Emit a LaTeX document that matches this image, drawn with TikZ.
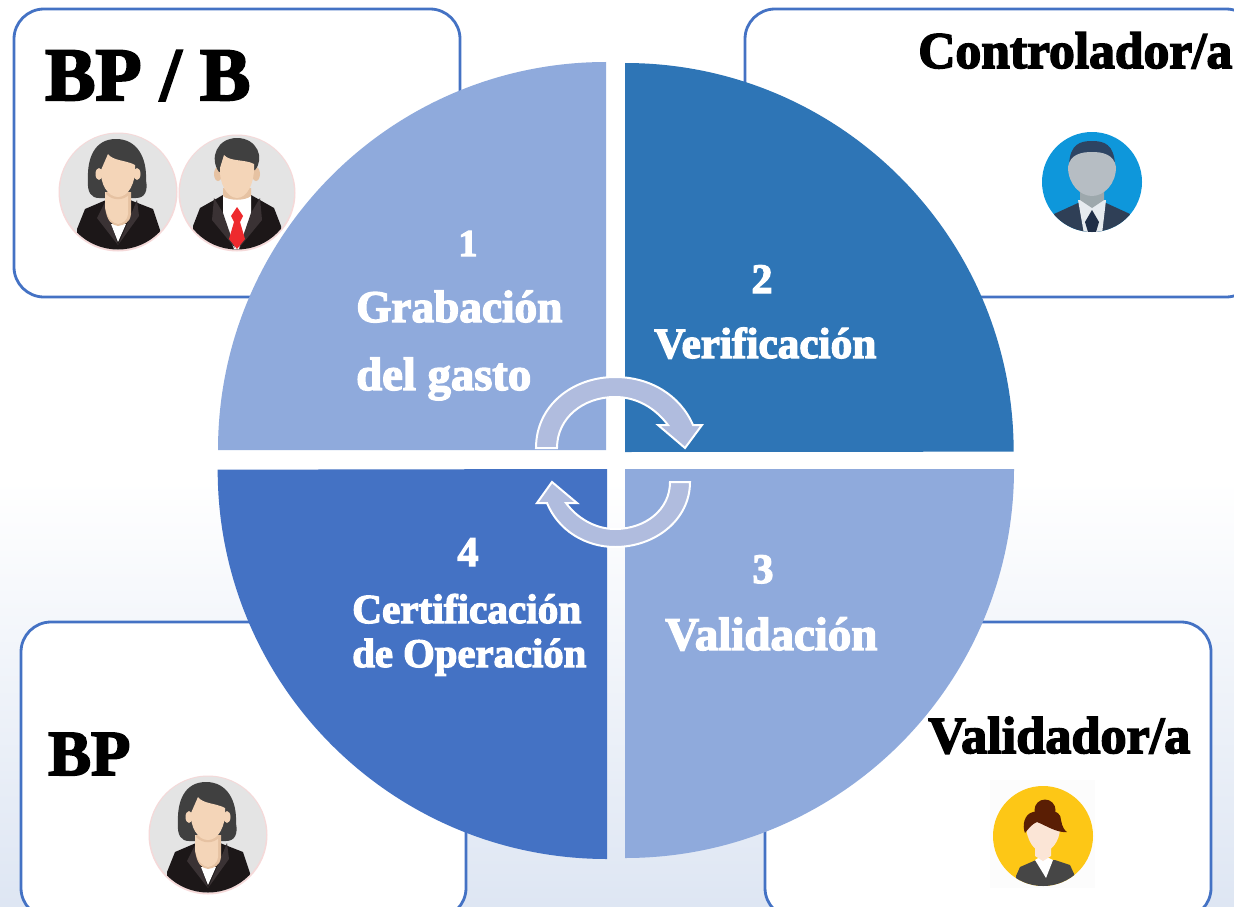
\documentclass[tikz,border=0pt]{standalone}
\usepackage{fontspec}
\setmainfont{Liberation Serif}[BoldFeatures={FakeBold=3}]
\newdimen\unitpx \unitpx=0.75pt
\newcommand{\fittext}[2]{\resizebox{#1\unitpx}{!}{\bfseries #2}}
\definecolor{boxblue}{HTML}{4472C4}
\definecolor{paleq}{HTML}{8FAADC}
\definecolor{darkq}{HTML}{2E75B6}
\definecolor{midq}{HTML}{4472C4}
\definecolor{turn}{HTML}{B0BCDE}
\definecolor{bgblue}{HTML}{DEE6F3}
\definecolor{skin}{HTML}{F4D5B8}
\definecolor{skinshade}{HTML}{E6C2A2}
\definecolor{hairgrey}{HTML}{404040}
\definecolor{suit}{HTML}{1C1718}
\definecolor{lapel}{HTML}{3A3234}
\definecolor{discgrey}{HTML}{E4E4E4}
\definecolor{rim}{HTML}{F5D9D9}
\definecolor{tiered}{HTML}{EE2A2E}
\definecolor{HTMLblue}{HTML}{0E97DB}
\definecolor{HTMLhair}{HTML}{2D4463}
\definecolor{HTMLsuit}{HTML}{2F3F56}
\definecolor{HTMLneck}{HTML}{9DA8AC}
\definecolor{HTMLcollar}{HTML}{E6EBEF}
\definecolor{HTMLtie}{HTML}{1F2E47}
\definecolor{HTMLface}{HTML}{B6BDC3}
\definecolor{HTMLsq}{HTML}{FCFCFC}
\definecolor{HTMLyellow}{HTML}{FDC716}
\definecolor{HTMLsuit2}{HTML}{464646}
\definecolor{HTMLbrown}{HTML}{5A1E04}
\definecolor{HTMLpeach}{HTML}{FBE5D6}
\tikzset{
  x=0.75pt,y=-0.75pt,
  roundbox/.style={draw=boxblue,line width=2.1pt,fill=white,rounded corners=22.5pt},
  label head/.style={inner sep=0pt,anchor=base west,text=black},
  label white/.style={inner sep=0pt,anchor=base west,text=white},
  label num/.style={inner sep=0pt,anchor=base,text=white},
  turn arrow/.style={fill=turn,draw=white,line width=1.5pt,line join=miter},
  womanav/.pic={
    \fill[rim] (0,0) circle[radius=59.5*\unitpx];
    \begin{scope}
      \clip (0,-0.5) circle[radius=58*\unitpx];
      \fill[discgrey] (-60,-60) rectangle (60,60);
      \fill[hairgrey] (-2,-53) .. controls (-24,-53) and (-31,-33) .. (-30,-12)
        .. controls (-31,0) and (-27,6) .. (-19,6) -- (18,6)
        .. controls (27,6) and (30,-1) .. (28,-12)
        .. controls (29,-33) and (20,-53) .. (-2,-53) -- cycle;
      \fill[suit] (-41,37) -- (-33,17) -- (-12,8) -- (12,8) -- (35,17) -- (42,38) -- (42,60) -- (-41,60) -- cycle;
      \fill[lapel] (-12,8) -- (-21,26) -- (0,53) -- (-7,32) -- cycle;
      \fill[lapel] (19,8) -- (21,24) -- (0,53) -- (10,30) -- cycle;
      \fill[white] (-7,32) -- (8,32) -- (0,50) -- cycle;
      \fill[skinshade] (-13,0) -- (13,0) -- (13,22) .. controls (12,31) and (6,33) .. (0,34) .. controls (-6,33) and (-11,30) .. (-13,15) -- cycle;
      \fill[skin] (-13,0) -- (10,0) -- (10,22) .. controls (9,29) and (5,31) .. (0,32) .. controls (-5,31) and (-10,28) .. (-13,15) -- cycle;
      \fill[skinshade] (-12,2) .. controls (-5,9) and (5,9) .. (12,2) -- (12,0) -- (-12,0) -- cycle;
      \fill[skin] (-19,-18) ellipse[x radius=3.5*\unitpx,y radius=6*\unitpx];
      \fill[skin] (19,-18) ellipse[x radius=3.5*\unitpx,y radius=6*\unitpx];
      \fill[skin] (-10,-38) .. controls (-5,-31) and (8,-32) .. (17,-27)
        .. controls (18,-8) and (10,5) .. (0,5)
        .. controls (-10,5) and (-18,-8) .. (-17,-22) -- cycle;
    \end{scope}
  },
  manav/.pic={
    \fill[rim] (0,0) circle[radius=58.5*\unitpx];
    \begin{scope}
      \clip (0,-0.5) circle[radius=57*\unitpx];
      \fill[discgrey] (-60,-60) rectangle (60,60);
      \fill[suit] (-44,33) -- (-37,15) -- (-14,2) -- (14,2) -- (37,15) -- (44,33) -- (44,60) -- (-44,60) -- cycle;
      \fill[white] (-14,3) -- (14,3) -- (14,26) -- (2,56) -- (-3,56) -- (-14,26) -- cycle;
      \fill[lapel] (-23,5) -- (-25,27) -- (-2,55) -- (-14,20) -- cycle;
      \fill[lapel] (23,5) -- (25,27) -- (2,55) -- (14,20) -- cycle;
      \fill[tiered] (0,14) -- (6,23) -- (3,29) -- (8,46) -- (0,56) -- (-8,46) -- (-3,29) -- (-6,23) -- cycle;
      \fill[skinshade] (-14,-5) -- (14,-5) -- (14,3) .. controls (8,8) and (-8,8) .. (-14,3) -- cycle;
      \fill[skinshade] (-19,-19) ellipse[x radius=4*\unitpx,y radius=7*\unitpx];
      \fill[skinshade] (19,-19) ellipse[x radius=4*\unitpx,y radius=7*\unitpx];
      \fill[hairgrey] (-18,-21) .. controls (-28,-35) and (-20,-55) .. (0,-55)
        .. controls (20,-55) and (28,-35) .. (18,-23) -- cycle;
      \fill[skin] (-13,-38) .. controls (-7,-31) and (8,-34) .. (17,-29)
        .. controls (18,-10) and (10,5) .. (0,5)
        .. controls (-10,5) and (-18,-10) .. (-17,-25) -- cycle;
    \end{scope}
  },
  bluemanav/.pic={
    \begin{scope}
      \clip (0,0) circle[radius=50*\unitpx];
      \fill[HTMLblue] (-60,-60) rectangle (60,60);
      \fill[HTMLhair] (-23,-17) .. controls (-22,-38) and (-12,-41) .. (0,-41)
        .. controls (12,-41) and (22,-38) .. (23,-17) -- cycle;
      \fill[HTMLsuit] (-38,32) -- (-14,21) -- (14,21) -- (38,32) -- (38,55) -- (-38,55) -- cycle;
      \fill[HTMLcollar] (-14,18) -- (14,18) -- (10,52) -- (-8,52) -- cycle;
      \fill[HTMLneck] (-12,8) -- (12,8) -- (12,18) -- (0,26) -- (-12,18) -- cycle;
      \fill[HTMLtie] (0,28) -- (7,40) -- (4,50) -- (-4,50) -- (-7,40) -- cycle;
      \fill[HTMLface] (-24,-15) .. controls (-22,-28) and (-10,-30) .. (0,-30)
        .. controls (10,-30) and (22,-28) .. (24,-15)
        .. controls (24,2) and (12,14) .. (0,14)
        .. controls (-12,14) and (-24,2) .. (-24,-15) -- cycle;
    \end{scope}
  },
  yellowav/.pic={
    \fill[HTMLsq] (-53,-56) rectangle (52,52);
    \begin{scope}
      \clip (0,0) circle[radius=50*\unitpx];
      \fill[HTMLyellow] (-60,-60) rectangle (60,60);
      \fill[HTMLsuit2] (-27,40) -- (-23,31) -- (-7,24) -- (12,24) -- (27,29) -- (32,40) -- (32,55) -- (-27,55) -- cycle;
      \fill[white] (-8,24) -- (0,19) -- (10,24) -- (3,42) -- cycle;
      \fill[HTMLpeach] (-8,10) -- (8,10) -- (8,20) -- (0,25) -- (-8,20) -- cycle;
      \fill[HTMLpeach] (-17,-12) .. controls (-17,-28) and (17,-28) .. (17,-8)
        .. controls (17,5) and (8,16) .. (0,16)
        .. controls (-8,16) and (-17,5) .. (-17,-12) -- cycle;
      \fill[HTMLbrown] (2,-26) circle[radius=10.5*\unitpx];
      \fill[HTMLbrown] (-18,-3) .. controls (-21,-10) and (-19,-22) .. (-10,-24)
        .. controls (0,-27) and (18,-28) .. (18,-16) .. controls (19,-9) and (22,-5) .. (24,-4)
        .. controls (14,-3) and (4,-10) .. (-6,-14) .. controls (-11,-12) and (-14,-8) .. (-18,-3) -- cycle;
    \end{scope}
  }
}
\begin{document}
\begin{tikzpicture}
\useasboundingbox (0,0) rectangle (1234,906);
\clip (0,0) rectangle (1234,906);
% background
\fill[white] (0,0) rectangle (1234,906);
\shade[top color=white,bottom color=bgblue] (0,480) rectangle (1234,906);
% cards
\draw[roundbox] (14,9) rectangle (460,297);
\draw[roundbox] (745,9) rectangle (1256,297);
\draw[roundbox] (21,622) rectangle (466,918);
\draw[roundbox] (765,622) rectangle (1211,918);
% card headings
\node[label head] (hbpb) at (45,100) {\fittext{205}{BP / B}};
\node[label head] (hctrl) at (918,68) {\fittext{314}{Controlador/a}};
\node[label head] (hbp) at (48,775) {\fittext{82}{BP}};
\node[label head] (hval) at (928,753) {\fittext{262}{Validador/a}};
% avatars
\pic at (118,192) {womanav};
\pic at (237,193) {manav};
\pic at (208,835) {womanav};
\pic at (1092,182) {bluemanav};
\pic at (1043,836) {yellowav};
% quadrants
\fill[paleq] (606,450) -- (218,450) arc[start angle=180,end angle=90,radius=291pt] -- cycle;
\fill[darkq] (625,452) -- (625,63) arc[start angle=90,end angle=0,radius=291.5pt] -- cycle;
\fill[paleq] (625,469) -- (1014,469) arc[start angle=0,end angle=-90,radius=291.75pt] -- cycle;
\fill[midq] (607,469) -- (607,859) arc[start angle=-90,end angle=-180,radius=292pt] -- cycle;
% turning arrows
\draw[turn arrow] (536,448) .. controls (536,405) and (573,377) .. (615,377)
  .. controls (650,377) and (680,395) .. (693,425) -- (702,425) -- (685,448) -- (658,425) -- (668,425)
  .. controls (655,408) and (637,397) .. (615,397)
  .. controls (583,397) and (557,418) .. (557,448) -- cycle;
\draw[turn arrow] (690,482) .. controls (690,520) and (655,547) .. (615,547)
  .. controls (585,547) and (558,530) .. (547,503) -- (537,503) -- (552,482) -- (577,503) -- (566,503)
  .. controls (577,518) and (595,529) .. (615,529)
  .. controls (645,529) and (670,510) .. (670,482) -- cycle;
% quadrant text
\node[label num] (n1) at (468,256) {\fittext{19}{1}};
\node[label white] (t1a) at (356,322) {\fittext{206}{Grabación}};
\node[label white] (t1b) at (356,390) {\fittext{175}{del gasto}};
\node[label num] (n2) at (762,293) {\fittext{21}{2}};
\node[label white] (t2) at (654,358) {\fittext{222}{Verificación}};
\node[label num] (n3) at (763,583) {\fittext{21}{3}};
\node[label white] (t3) at (665,650) {\fittext{212}{Validación}};
\node[label num] (n4) at (468,566) {\fittext{21}{4}};
\node[label white] (t4a) at (352,623) {\fittext{229}{Certificación}};
\node[label white] (t4b) at (352,667) {\fittext{234}{de Operación}};
\end{tikzpicture}
\end{document}
